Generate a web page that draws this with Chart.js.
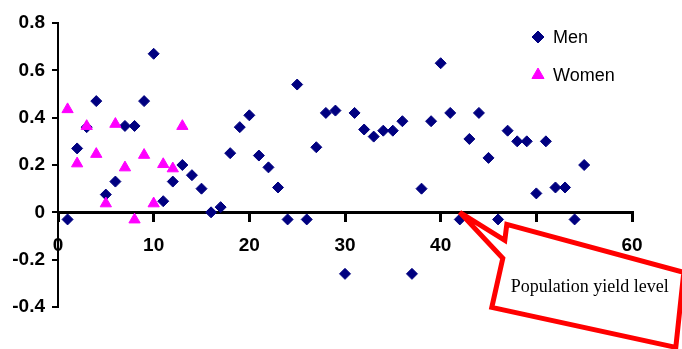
<!DOCTYPE html>
<html lang="en">
<head>
  <meta charset="UTF-8">
  <title>Men / Women scatter</title>
  <script src="https://cdn.jsdelivr.net/npm/chart.js"></script>
  <style>
    body { margin: 0; background: #fff; }
    #wrap { width: 682px; height: 349px; position: relative; }
  </style>
</head>
<body>
  <div id="wrap"><canvas id="chart"></canvas></div>
  <script>
    // values
    const menX = [1,2,3,4,5,6,7,8,9,10,11,12,13,14,15,16,17,18,19,20,21,22,23,24,25,26,27,28,29,30,31,32,33,34,35,36,37,38,39,40,41,42,43,44,45,46,47,48,49,50,51,52,53,54,55];
    const menY = [-0.03,0.27,0.36,0.47,0.075,0.13,0.365,0.365,0.47,0.67,0.047,0.13,0.2,0.157,0.1,0,0.022,0.25,0.36,0.41,0.24,0.19,0.105,-0.03,0.54,-0.03,0.275,0.42,0.43,-0.26,0.42,0.35,0.32,0.345,0.345,0.385,-0.26,0.1,0.385,0.63,0.42,-0.03,0.31,0.42,0.23,-0.03,0.345,0.3,0.3,0.08,0.3,0.105,0.105,-0.03,0.2];
    const womenX = [1,2,3,4,5,6,7,8,9,10,11,12,13];
    const womenY = [0.435,0.206,0.364,0.246,0.037,0.373,0.189,-0.031,0.242,0.037,0.203,0.185,0.364];
    const xTicks = [0,10,20,30,40,50,60];
    const yTicks = [-0.4,-0.2,0,0.2,0.4,0.6,0.8];
    const calloutText = 'Population yield level';
    const calloutAt = { x: 42, y: 0 };

    const toPts = (xs, ys) => xs.map((x, i) => ({ x, y: ys[i] }));
    const tickFont = { family: 'Arial, "Liberation Sans", sans-serif', size: 19, weight: 'bold' };

    // legend drawn by hand so it can sit inside the plot like the original
    const legendPlugin = {
      id: 'legendBox',
      afterDatasetsDraw(chart) {
        const { ctx, chartArea } = chart;
        const items = [chart.data.datasets[0], chart.data.datasets[1]];
        const x0 = chartArea.right - 94, y0 = chartArea.top + 14;
        ctx.save();
        ctx.font = '18px Arial, "Liberation Sans", sans-serif';
        ctx.textBaseline = 'middle';
        items.forEach((ds, i) => {
          const y = y0 + i * 38;
          ctx.fillStyle = ds.backgroundColor;
          ctx.strokeStyle = ds.borderColor;
          ctx.lineWidth = 1;
          Chart.helpers.drawPoint(ctx, { pointStyle: ds.pointStyle, radius: ds.pointRadius + 0.5, borderWidth: 1 }, x0, y);
          ctx.fillStyle = '#000';
          ctx.fillText(ds.label, x0 + 15, y + 1);
        });
        ctx.restore();
      }
    };

    // red callout pointing at the x axis
    const calloutPlugin = {
      id: 'callout',
      afterDraw(chart) {
        const { ctx } = chart;
        const tx = chart.scales.x.getPixelForValue(calloutAt.x);
        const ty = chart.scales.y.getPixelForValue(calloutAt.y);
        const pts = [[0,0],[45,28],[47,12],[224,60],[216,135],[32,95],[43,46]];
        ctx.save();
        ctx.beginPath();
        pts.forEach(([dx, dy], i) => i ? ctx.lineTo(tx + dx, ty + dy) : ctx.moveTo(tx + dx, ty + dy));
        ctx.closePath();
        ctx.fillStyle = '#fff';
        ctx.fill();
        ctx.lineWidth = 5;
        ctx.lineJoin = 'miter';
        ctx.miterLimit = 2;
        ctx.strokeStyle = '#ff0000';
        ctx.stroke();
        ctx.fillStyle = '#000';
        ctx.font = '18px "Liberation Serif", "Times New Roman", serif';
        ctx.textBaseline = 'alphabetic';
        ctx.fillText(calloutText, tx + 51, ty + 80);
        ctx.restore();
      }
    };

    new Chart(document.getElementById('chart'), {
      type: 'scatter',
      data: {
        datasets: [
          { label: 'Men', data: toPts(menX, menY), pointStyle: 'rectRot', pointRadius: 5.5, pointHoverRadius: 5.5,
            backgroundColor: '#000080', borderColor: '#000080', borderWidth: 1, order: 2 },
          { label: 'Women', data: toPts(womenX, womenY), pointStyle: 'triangle', pointRadius: 6.5, pointHoverRadius: 6.5,
            backgroundColor: '#ff00ff', borderColor: '#ff00ff', borderWidth: 1, order: 1 }
        ]
      },
      options: {
        responsive: true,
        maintainAspectRatio: false,
        animation: false,
        layout: { padding: { top: 23, right: 50, bottom: 42, left: 0 } },
        plugins: { legend: { display: false }, tooltip: { enabled: false } },
        scales: {
          x: {
            type: 'linear', min: 0, max: 60,
            position: { y: 0 },
            afterBuildTicks: s => { s.ticks = xTicks.map(v => ({ value: v })); },
            afterFit: s => { s.height = 0; },
            grid: { drawOnChartArea: false, drawTicks: true, tickLength: 8, color: '#000', lineWidth: 3 },
            border: { display: true, color: '#000', width: 3 },
            ticks: { color: '#000', font: tickFont, padding: 14, maxRotation: 0 }
          },
          y: {
            type: 'linear', min: -0.4, max: 0.8,
            position: 'left',
            afterBuildTicks: s => { s.ticks = yTicks.map(v => ({ value: v })); },
            afterFit: s => { s.width = 58; },
            grid: { drawOnChartArea: false, drawTicks: true, tickLength: 6, color: '#000', lineWidth: 2 },
            border: { display: true, color: '#000', width: 2 },
            ticks: { color: '#000', font: tickFont, padding: 7, callback: v => String(Math.round(v * 10) / 10) }
          }
        }
      },
      plugins: [legendPlugin, calloutPlugin]
    });
  </script>
</body>
</html>
